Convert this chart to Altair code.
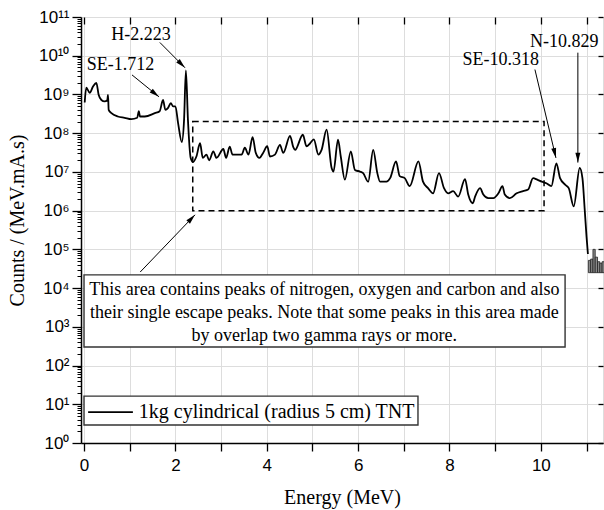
import math
import altair as alt
import pandas as pd

# ---------------- data ----------------
energy = [0.015, 0.05, 0.125, 0.197, 0.27, 0.32, 0.38, 0.45, 0.51, 0.525, 0.54, 0.6, 0.74, 0.89,
          1.035, 1.165, 1.2, 1.225, 1.33, 1.55, 1.655, 1.73, 1.78, 1.84, 1.9, 1.95, 2.0, 2.06,
          2.14, 2.19, 2.23, 2.275, 2.335, 2.385, 2.46, 2.54, 2.6, 2.68, 2.74, 2.83, 2.9, 3.05,
          3.11, 3.19, 3.25, 3.34, 3.45, 3.52, 3.6, 3.69, 3.76, 3.84, 3.92, 4.01, 4.07, 4.18,
          4.29, 4.36, 4.51, 4.58, 4.62, 4.79, 4.87, 4.95, 5.03, 5.13, 5.2, 5.31, 5.42, 5.46,
          5.56, 5.62, 5.71, 5.84, 5.93, 6.04, 6.11, 6.22, 6.33, 6.42, 6.48, 6.62, 6.7, 6.83,
          6.91, 7.02, 7.13, 7.32, 7.42, 7.53, 7.64, 7.77, 7.88, 7.97, 8.08, 8.19, 8.34, 8.41,
          8.51, 8.56, 8.67, 8.74, 8.85, 8.96, 9.07, 9.16, 9.21, 9.32, 9.47, 9.61, 9.72, 9.83,
          9.92, 10.02, 10.12, 10.23, 10.34, 10.42, 10.53, 10.61, 10.72, 10.85, 10.91, 10.96,
          11.0, 11.03]
counts = [6.2e8, 1.5e9, 1.1e9, 1.6e9, 2.0e9, 9.8e8, 7.2e8, 6.6e8, 7.1e8, 9.8e8, 4.0e8, 3.3e8, 2.7e8, 2.5e8,
          2.3e8, 2.5e8, 3.7e8, 2.7e8, 2.7e8, 3.3e8, 3.7e8, 7.2e8, 4.0e8, 4.5e8, 6.0e8, 4.9e8, 4.9e8, 1.8e8,
          5.9e7, 2.2e8, 4.2e9, 2.2e8, 2.3e7, 1.8e7, 2.5e7, 5.5e7, 2.3e7, 2.8e7, 2.0e7, 3.4e7, 2.3e7, 3.9e7,
          2.3e7, 4.5e7, 2.8e7, 2.8e7, 2.8e7, 4.2e7, 2.8e7, 7.9e7, 3.1e7, 2.3e7, 3.1e7, 4.6e7, 2.5e7, 2.8e7,
          5.0e7, 3.1e7, 8.5e7, 4.4e7, 3.7e7, 9.1e7, 4.6e7, 5.5e7, 6.9e7, 2.8e7, 3.7e7, 1.23e8, 1.26e7, 1.02e7,
          6.8e7, 2.5e7, 6.3e6, 3.4e7, 1.12e7, 1.02e7, 9.3e6, 5.6e6, 3.7e7, 9.3e6, 5.6e6, 5.6e6, 6.9e6, 1.86e7,
          7.8e6, 6.9e6, 4.3e6, 1.86e7, 5.6e6, 3.8e6, 2.8e6, 9.3e6, 3.8e6, 2.8e6, 3.2e6, 2.3e6, 6.5e6, 2.6e6,
          1.55e6, 2.3e6, 3.8e6, 2.6e6, 2.1e6, 2.1e6, 2.8e6, 4.3e6, 2.6e6, 2.1e6, 2.8e6, 3.2e6, 3.5e6, 6.9e6,
          6.3e6, 5.6e6, 5.1e6, 4.3e6, 1.66e7, 6.9e6, 4.7e6, 3.8e6, 1.29e6, 1.26e7, 6.9e6, 1.05e6,
          2.1e5, 7.6e4]

tail_start = [11.04, 11.09, 11.14, 11.19, 11.24, 11.29, 11.34]
tail_end = [11.09, 11.14, 11.19, 11.24, 11.29, 11.34, 11.39]
tail_counts = [5.2e4, 5.6e4, 1.0e5, 6.3e4, 4.8e4, 4.4e4, 4.8e4]
tail_base = [2.5e4] * 7

ann_text = ["SE-1.712", "H-2.223", "SE-10.318", "N-10.829"]
ann_x = [0.80, 1.25, 9.12, 10.51]
ann_y = [5.9e9, 3.5e10, 7.9e9, 2.3e10]

arrow_x1 = [1.05, 1.66, 9.87, 10.81, 1.23]
arrow_y1 = [3.2e9, 2.2e10, 4.4e9, 1.2e10, 2.6e4]
arrow_x2 = [1.64, 2.21, 10.33, 10.81, 2.43]
arrow_y2 = [8.7e8, 4.9e9, 2.3e7, 1.74e7, 7.8e5]

region_x = [2.38, 10.07]
region_y = [1e6, 2e8]

note_lines = ["This area contains peaks of nitrogen, oxygen and carbon and also",
              "their single escape peaks. Note that some peaks in this area made",
              "by overlap two gamma rays or more."]
note_box_x = [0.0, 10.53]
note_box_y = [302, 2.19e4]
note_line_y = [8.9e3, 2.3e3, 575]
note_x = 5.26

legend_label = "1kg cylindrical (radius 5 cm) TNT"
legend_box_x = [0.0, 7.31]
legend_box_y = [2.92, 16.2]
legend_line_x = [0.09, 1.07]
legend_y = 6.3
legend_text_x = 1.2

x_ticks = list(range(12))
y_major = [10 ** n for n in range(12)]
y_minor = [m * 10 ** n for n in range(11) for m in range(2, 10)]

# ---------------- layout ----------------
X_DOM = [-0.066, 11.36]
Y_DOM = [1, 1e11]
W, H = 522, 426
PXU = W / (X_DOM[1] - X_DOM[0])
PYD = H / 11.0

serif = "Liberation Serif"
sans = "Liberation Sans"

xs = alt.Scale(domain=X_DOM, nice=False, zero=False)
ys = alt.Scale(type="log", domain=Y_DOM, nice=False)

sup = "['\u2070','\u00b9','\u00b2','\u00b3','\u2074','\u2075','\u2076','\u2077','\u2078','\u2079','\u00b9\u2070','\u00b9\u00b9']"

spec_df = pd.DataFrame({"E": energy, "C": counts})
line = alt.Chart(spec_df).mark_line(color="black", strokeWidth=1.8, interpolate="monotone").encode(
    x=alt.X("E:Q", scale=xs, axis=alt.Axis(
        orient="bottom", values=x_ticks, labelExpr="datum.value % 2 == 0 ? datum.label : ''",
        title="Energy (MeV)", titleFont=serif, titleFontSize=20, titleFontWeight="normal",
        titleY=54, titleBaseline="middle", labelFont=sans, labelFontSize=17, labelPadding=6,
        tickSize=8, tickColor="black", tickWidth=1.3, domainColor="black", domainWidth=1.5,
        labelColor="black", titleColor="black")),
    y=alt.Y("C:Q", scale=ys, axis=alt.Axis(
        orient="left", values=y_major,
        labelExpr="'10' + " + sup + "[round(log(datum.value)/LN10)]",
        title="Counts / (MeV.mA.s)", titleFont=serif, titleFontSize=20, titleFontWeight="normal",
        titleX=-64, titleY=203, titleAngle=270, titleAlign="center", titleBaseline="middle",
        labelFont=sans, labelFontSize=17, labelPadding=3, tickSize=9, tickColor="black",
        tickWidth=1.3, domainColor="black", domainWidth=1.5, labelColor="black", titleColor="black")),
)

tail_df = pd.DataFrame({"s": tail_start, "e": tail_end, "c": tail_counts, "b": tail_base})
tail = alt.Chart(tail_df).mark_bar(color="#8a8a8a", stroke="#222", strokeWidth=0.8).encode(
    x=alt.X("s:Q", scale=xs, axis=alt.Axis(
        orient="top", values=x_ticks, labels=False, domain=False, tickSize=7, offset=-7,
        title=None, tickColor="black", tickWidth=1.3)),
    x2="e:Q",
    y=alt.Y("c:Q", scale=ys, axis=alt.Axis(
        orient="left", values=y_minor, labels=False, domain=False, tickSize=4, title=None,
        tickColor="black", tickWidth=1)),
    y2="b:Q",
)

region_df = pd.DataFrame({"x": [region_x[0]], "x2": [region_x[1]], "y": [region_y[0]], "y2": [region_y[1]]})
region = alt.Chart(region_df).mark_rect(fill=None, fillOpacity=0, stroke="black", strokeWidth=1.5,
                                        strokeDash=[6, 4]).encode(
    x=alt.X("x:Q", scale=xs, axis=None),
    x2="x2:Q",
    y=alt.Y("y:Q", scale=ys, axis=alt.Axis(
        orient="right", values=y_major, labels=False, domain=False, tickSize=5, offset=-5,
        title=None, tickColor="black", tickWidth=1.3)),
    y2="y2:Q",
)

# arrows
arr_df = pd.DataFrame({"x": arrow_x1, "y": arrow_y1, "x2": arrow_x2, "y2": arrow_y2})
arr_df["a"] = [
    math.degrees(math.atan2((x2 - x1) * PXU, (math.log10(y2) - math.log10(y1)) * PYD)) % 360
    for x1, y1, x2, y2 in zip(arrow_x1, arrow_y1, arrow_x2, arrow_y2)
]
arrows = alt.Chart(arr_df).mark_rule(color="black", strokeWidth=1).encode(
    x=alt.X("x:Q", scale=xs, axis=None), y=alt.Y("y:Q", scale=ys, axis=None),
    x2="x2:Q", y2="y2:Q")
heads = alt.Chart(arr_df).mark_point(
    shape="M0,0 L0.55,2.2 L-0.55,2.2 Z", filled=True, color="black", size=81, opacity=1).encode(
    x=alt.X("x2:Q", scale=xs, axis=None), y=alt.Y("y2:Q", scale=ys, axis=None),
    angle=alt.Angle("a:Q", scale=None))

ann_df = pd.DataFrame({"t": ann_text, "x": ann_x, "y": ann_y})
anns = alt.Chart(ann_df).mark_text(font=serif, fontSize=18, color="black", align="center",
                                   baseline="middle").encode(
    x=alt.X("x:Q", scale=xs, axis=None), y=alt.Y("y:Q", scale=ys, axis=None), text="t:N")

# note box
note_box_df = pd.DataFrame({"x": [note_box_x[0]], "x2": [note_box_x[1]], "y": [note_box_y[0]], "y2": [note_box_y[1]]})
note_box = alt.Chart(note_box_df).mark_rect(fill="white", stroke="#333", strokeWidth=1.4).encode(
    x=alt.X("x:Q", scale=xs, axis=None), x2="x2:Q",
    y=alt.Y("y:Q", scale=ys, axis=None), y2="y2:Q")
note_df = pd.DataFrame({"t": note_lines, "y": note_line_y, "x": [note_x] * 3})
note = alt.Chart(note_df).mark_text(font=serif, fontSize=18, color="black", align="center",
                                    baseline="middle").encode(
    x=alt.X("x:Q", scale=xs, axis=None), y=alt.Y("y:Q", scale=ys, axis=None), text="t:N")

# legend
leg_box_df = pd.DataFrame({"x": [legend_box_x[0]], "x2": [legend_box_x[1]], "y": [legend_box_y[0]], "y2": [legend_box_y[1]]})
leg_box = alt.Chart(leg_box_df).mark_rect(fill="white", stroke="#333", strokeWidth=1.4).encode(
    x=alt.X("x:Q", scale=xs, axis=None), x2="x2:Q",
    y=alt.Y("y:Q", scale=ys, axis=None), y2="y2:Q")
leg_line_df = pd.DataFrame({"x": [legend_line_x[0]], "x2": [legend_line_x[1]], "y": [legend_y]})
leg_line = alt.Chart(leg_line_df).mark_rule(color="black", strokeWidth=1.8).encode(
    x=alt.X("x:Q", scale=xs, axis=None), x2="x2:Q", y=alt.Y("y:Q", scale=ys, axis=None))
leg_text_df = pd.DataFrame({"t": [legend_label], "x": [legend_text_x], "y": [legend_y]})
leg_text = alt.Chart(leg_text_df).mark_text(font=serif, fontSize=20, color="black", align="left",
                                            baseline="middle").encode(
    x=alt.X("x:Q", scale=xs, axis=None), y=alt.Y("y:Q", scale=ys, axis=None), text="t:N")

chart = alt.layer(
    line, tail, region, note_box, note, leg_box, leg_line, leg_text, arrows, heads, anns
).resolve_scale(x="shared", y="shared").resolve_axis(x="independent", y="independent").properties(
    width=W, height=H, autosize=alt.AutoSizeParams(type="none"),
    padding={"left": 81, "top": 17, "right": 1, "bottom": 67},
).configure_view(stroke="black", strokeWidth=1.5).configure_axis(grid=False).configure(background="white")

chart.save("out.html", embed_options={"renderer": "svg", "actions": False})
